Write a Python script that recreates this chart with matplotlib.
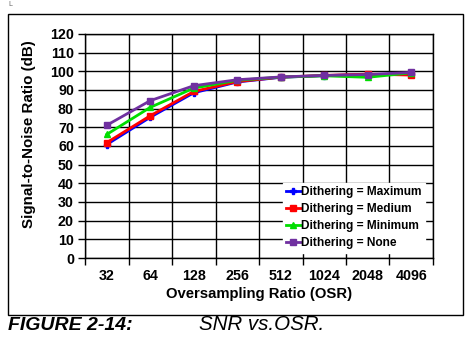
import matplotlib
matplotlib.use("Agg")
import matplotlib.pyplot as plt
from matplotlib.patches import Rectangle
import numpy as np

plt.rcParams['font.family'] = ['Liberation Sans', 'DejaVu Sans']

osr_labels = ["32", "64", "128", "256", "512", "1024", "2048", "4096"]
snr_max = [60.8, 75.4, 88.5, 94.3, 96.8, 97.7, 98.3, 98.6]
snr_medium = [61.8, 76.2, 89.2, 94.5, 96.9, 97.8, 98.5, 98.0]
snr_minimum = [66.2, 80.7, 91.0, 95.2, 96.9, 97.6, 96.8, 99.2]
snr_none = [71.1, 84.3, 92.3, 95.5, 97.0, 97.8, 98.3, 99.4]
y_ticks = list(range(0, 121, 10))

W, H = 471, 349
fig = plt.figure(figsize=(W / 100, H / 100), dpi=100)

# plot area in pixel coordinates
left, right, top, bottom = 85, 433, 34, 258
ax = fig.add_axes([left / W, 1 - bottom / H, (right - left) / W, (bottom - top) / H])

x = np.arange(len(osr_labels))
series = [
    ("Dithering = Maximum", snr_max, "#0000FF", "P", 4),
    ("Dithering = Medium", snr_medium, "#FF0000", "s", 5),
    ("Dithering = Minimum", snr_minimum, "#00DD00", "^", 5),
    ("Dithering = None", snr_none, "#7030A0", "s", 5),
]
for label, vals, color, marker, ms in series:
    ax.plot(x, vals, color=color, lw=2, marker=marker, ms=ms,
            markeredgecolor=color, label=label, zorder=3)

ax.set_xlim(-0.5, len(osr_labels) - 0.5)
ax.set_ylim(0, 120)
ax.set_yticks(y_ticks)
ax.set_xticks(np.arange(-0.5, len(osr_labels), 1.0))
ax.set_xticklabels([])
ax.set_xticks(x, minor=True)
ax.set_xticklabels(osr_labels, minor=True)
ax.tick_params(axis='x', which='minor', length=0, pad=8)
ax.tick_params(axis='x', which='major', length=5, width=1, direction='out')
ax.tick_params(axis='y', length=5, width=1, direction='out', pad=3)
for lab in ax.get_xticklabels(minor=True) + ax.get_yticklabels():
    lab.set_fontsize(10.3)
    lab.set_fontweight('bold')

ax.grid(True, which='major', color='black', lw=1)
ax.set_axisbelow(True)
for s in ax.spines.values():
    s.set_color('black')
    s.set_linewidth(1)

ax.set_xlabel("Oversampling Ratio (OSR)", fontsize=10.7, fontweight='bold', labelpad=3)
ax.set_ylabel("Signal-to-Noise Ratio (dB)", fontsize=10.9, fontweight='bold')
ax.yaxis.set_label_coords((36 - left) / (right - left), (bottom - 134) / (bottom - top))

leg = ax.legend(loc='lower right', bbox_to_anchor=(0.978, 0.022),
                prop={'weight': 'bold', 'size': 8.6}, frameon=True, fancybox=False,
                framealpha=1, edgecolor='white', handlelength=1.2,
                handletextpad=0.05, labelspacing=0.42, borderpad=0.3,
                borderaxespad=0.0)
leg.set_zorder(5)

# outer frame around the chart
fig.patches.append(Rectangle((8 / W, 1 - 315 / H), (463 - 8) / W, (315 - 14) / H,
                             transform=fig.transFigure, fill=False,
                             edgecolor='black', lw=1))

fig.text(8 / W, 1 - 5 / H, "L", fontsize=5, color='#666666', va='center')
fig.text(8 / W, 1 - 325 / H, "FIGURE 2-14:", fontsize=14, fontweight='bold',
         fontstyle='italic', va='center')
fig.text(199 / W, 1 - 325 / H, "SNR vs.OSR.", fontsize=14.8, fontstyle='italic',
         va='center')

fig.savefig("out.png", dpi=100)
